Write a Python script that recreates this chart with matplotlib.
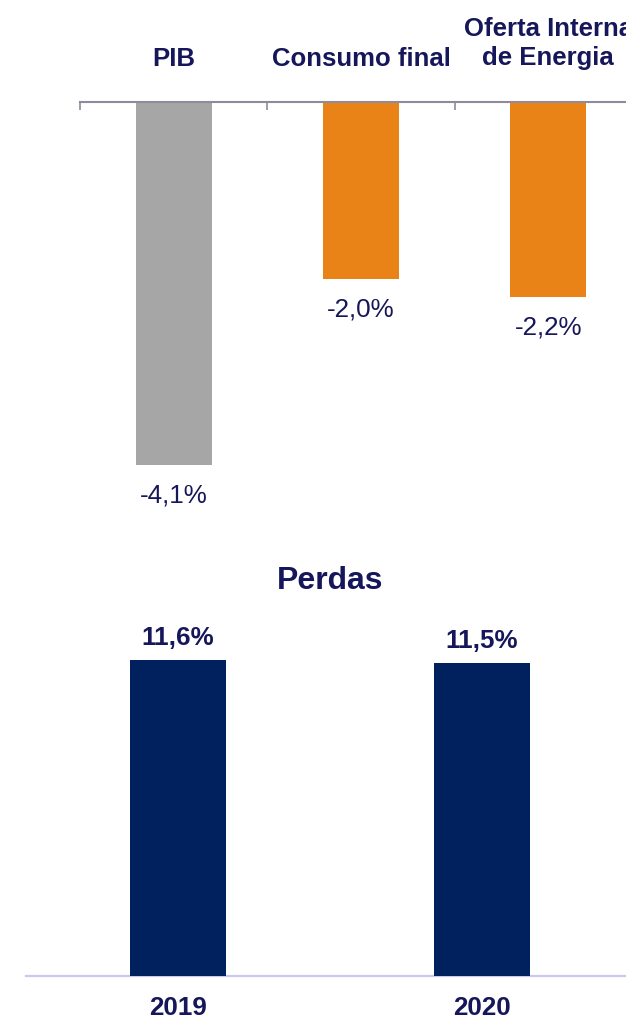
import matplotlib
matplotlib.use("Agg")
import matplotlib.pyplot as plt

"""Variação PIB / consumo / oferta interna e perdas"""

# top chart data
categorias = ["PIB", "Consumo final", "Oferta Interna\nde Energia"]
variacao = [-4.1, -2.0, -2.2]
cores_top = ["#a6a6a6", "#e98318", "#e98318"]

# bottom chart data
anos = ["2019", "2020"]
perdas = [11.6, 11.5]

NAVY_TXT = "#16165a"
NAVY_BAR = "#00215e"


def fmt(v):
    return f"{v:.1f}%".replace(".", ",")


def main():
    plt.rcParams["font.family"] = ["Liberation Sans", "DejaVu Sans"]

    fig = plt.figure(figsize=(6.26, 10.2), dpi=100)

    # ---- top chart ----
    ax1 = fig.add_axes([80 / 626, 0.5, 562 / 626, 407 / 1020])
    x = list(range(len(categorias)))
    ax1.bar(x, variacao, width=0.405, color=cores_top)
    ax1.set_xlim(-0.5, 2.5)
    ax1.set_ylim(-4.6, 0)
    for s in ["left", "right", "bottom"]:
        ax1.spines[s].set_visible(False)
    ax1.spines["top"].set_color("#8e8b9c")
    ax1.spines["top"].set_linewidth(1.5)
    ax1.xaxis.tick_top()
    ax1.set_xticks([-0.5, 0.5, 1.5, 2.5])
    ax1.set_xticklabels([])
    ax1.tick_params(axis="x", direction="in", length=6, width=1.2, color="#8e8b9c")
    ax1.set_yticks([])

    for i, (cat, v) in enumerate(zip(categorias, variacao)):
        ax1.annotate(cat, xy=(i, 1), xycoords=("data", "axes fraction"),
                     xytext=(0, 27), textcoords="offset points",
                     ha="center", va="baseline", multialignment="center",
                     fontsize=18.5, fontweight="bold", color=NAVY_TXT,
                     linespacing=1.3, annotation_clip=False)
        ax1.annotate(fmt(v), xy=(i, v), xytext=(0, -21.6), textcoords="offset points",
                     ha="center", va="center", fontsize=18.7, color=NAVY_TXT)

    # ---- bottom chart ----
    ax2 = fig.add_axes([26 / 626, 1 - 976.7 / 1020, 608 / 626, 353.6 / 1020])
    x2 = list(range(len(anos)))
    ax2.bar(x2, perdas, width=0.316, color=NAVY_BAR, zorder=3)
    ax2.set_xlim(-0.5, 1.5)
    ax2.set_ylim(0, 13)
    for s in ["left", "right", "top"]:
        ax2.spines[s].set_visible(False)
    ax2.spines["bottom"].set_color("#c9c9f0")
    ax2.spines["bottom"].set_linewidth(1.6)
    ax2.set_yticks([])
    ax2.set_xticks(x2)
    ax2.set_xticklabels(anos, fontsize=18.7, fontweight="bold", color=NAVY_TXT)
    ax2.tick_params(axis="x", length=0, pad=14)

    for i, v in enumerate(perdas):
        ax2.annotate(fmt(v), xy=(i, v), xytext=(0, 11.5), textcoords="offset points",
                     ha="center", va="baseline", fontsize=18.7, fontweight="bold",
                     color=NAVY_TXT)

    ax2.annotate("Perdas", xy=(0.5, 1), xycoords="axes fraction",
                 xytext=(0, 24.5), textcoords="offset points",
                 ha="center", va="baseline", fontsize=23, fontweight="bold",
                 color=NAVY_TXT)

    fig.savefig("out.png", dpi=100)


if __name__ == "__main__":
    main()
